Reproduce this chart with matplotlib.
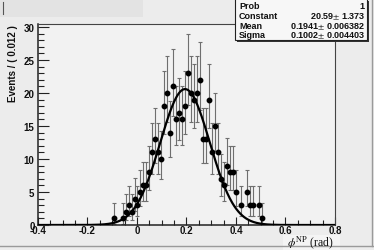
import numpy as np
import matplotlib
matplotlib.use("Agg")
import matplotlib.pyplot as plt
from matplotlib.patches import Rectangle
from matplotlib.lines import Line2D

# ---- data ----
bin_centers = [-0.094, -0.058, -0.046, -0.034, -0.022, -0.010, 0.002, 0.014, 0.026, 0.038,
               0.050, 0.062, 0.074, 0.086, 0.098, 0.110, 0.122, 0.134, 0.146, 0.158,
               0.170, 0.182, 0.194, 0.206, 0.218, 0.230, 0.242, 0.254, 0.266, 0.278,
               0.290, 0.302, 0.314, 0.326, 0.338, 0.350, 0.362, 0.374, 0.386, 0.398,
               0.422, 0.446, 0.458, 0.470, 0.494, 0.506]
counts = [1, 1, 2, 3, 2, 4, 3, 5, 6, 6,
          8, 11, 13, 11, 10, 18, 20, 14, 21, 16,
          17, 16, 18, 23, 20, 19, 20, 22, 13, 13,
          19, 11, 15, 11, 7, 6, 9, 8, 8, 5,
          3, 5, 3, 3, 3, 1]
fit_constant = 20.59
fit_mean = 0.1941
fit_sigma = 0.1002
stats_names = ["Prob", "Constant", "Mean", "Sigma"]
stats_values = ["1", "20.59$\\pm$ 1.373", "0.1941$\\pm$ 0.006382", "0.1002$\\pm$ 0.004403"]
x_ticks = [-0.4, -0.2, 0, 0.2, 0.4, 0.6, 0.8]
x_ticklabels = ["-0.4", "-0.2", "0", "0.2", "0.4", "0.6", "0.8"]
y_ticks = [0, 5, 10, 15, 20, 25, 30]

x = np.array(bin_centers)
n = np.array(counts, dtype=float)
# Poisson (Gehrels) approximate 68% intervals
up = np.sqrt(n + 0.75) + 1.0
lo = n - n * (1 - 1 / (9 * n) - 1 / (3 * np.sqrt(n))) ** 3

plt.rcParams['mathtext.fontset'] = 'stix'
W, H = 374, 251
fig = plt.figure(figsize=(W / 100, H / 100), dpi=100)
fig.patch.set_facecolor('#ececec')

# canvas bevel lines
fig.add_artist(Line2D([0, 1], [1 - 247 / H, 1 - 247 / H], color='#9a9a9a', lw=1.0, transform=fig.transFigure))
fig.add_artist(Line2D([372 / W, 372 / W], [1 - 247 / H, 1], color='#9a9a9a', lw=1.0, transform=fig.transFigure))

# title box top-left
fig.add_artist(Rectangle((0, 1 - 18 / H), 143 / W, 18 / H, transform=fig.transFigure,
                         facecolor='#e3e3e3', edgecolor='none'))
fig.add_artist(Line2D([3.5 / W, 3.5 / W], [1 - 15 / H, 1 - 3 / H], color='#555555', lw=0.8,
                      transform=fig.transFigure))

L, R, T, B = 38, 335, 25, 226
ax = fig.add_axes([L / W, 1 - B / H, (R - L) / W, (B - T) / H])
ax.set_facecolor('#f2f2f2')

ax.errorbar(x, n, yerr=[lo, up], fmt='none', ecolor='#6f6f6f', elinewidth=0.8,
            capsize=1.3, capthick=0.8, zorder=2)
ax.plot(x, n, 'o', color='black', markersize=3.2, zorder=3)

xx = np.linspace(-0.4, 0.8, 600)
ax.plot(xx, fit_constant * np.exp(-0.5 * ((xx - fit_mean) / fit_sigma) ** 2),
        color='black', lw=1.6, zorder=4)

ax.set_xlim(-0.4, 0.8)
ax.set_ylim(0, (B - T) / 6.6)
ax.set_xticks(x_ticks)
ax.set_xticklabels(x_ticklabels)
ax.set_yticks(y_ticks)
ax.set_xticks(np.arange(-0.35, 0.8, 0.05), minor=True)
ax.set_yticks(np.arange(0, 31, 1), minor=True)
ax.tick_params(axis='both', which='both', direction='in', top=False, right=False, colors='#222222')
ax.tick_params(axis='x', which='major', length=6, width=0.8, pad=0.3)
ax.tick_params(axis='x', which='minor', length=3.5, width=0.8)
ax.tick_params(axis='y', which='major', length=8, width=0.8, pad=2.5)
ax.tick_params(axis='y', which='minor', length=4, width=0.8)
for lab in ax.get_xticklabels() + ax.get_yticklabels():
    lab.set_fontfamily('Liberation Sans')
    lab.set_fontweight('bold')
    lab.set_fontsize(7)
    lab.set_color('#111111')
for s in ['left', 'bottom']:
    ax.spines[s].set_linewidth(1.1)
    ax.spines[s].set_color('#222222')
for s in ['top', 'right']:
    ax.spines[s].set_linewidth(0.8)
    ax.spines[s].set_color('#444444')

# y label
fig.text(13 / W, 1 - 25 / H, "Events / ( 0.012 )", rotation=90, ha='center', va='top',
         fontsize=7, fontweight='bold', family='Liberation Sans', color='#111111')

# x label with box
fig.add_artist(Rectangle((283 / W, 1 - 251 / H), 57 / W, 15.5 / H, transform=fig.transFigure,
                         facecolor='#f4f4f4', edgecolor='none'))
fig.text(334 / W, 1 - 242.5 / H, r"$\phi^{\mathrm{NP}}$ (rad)", ha='right', va='center',
         fontsize=8.5, family='Liberation Serif', color='#111111')

# stats box
bx0, bx1, by0, by1 = 235, 367, 0, 41
fig.add_artist(Rectangle(((bx0 + 2) / W, 1 - (by1 + 2) / H), (bx1 - bx0) / W, (by1 - by0) / H,
                         transform=fig.transFigure, facecolor='#333333', edgecolor='none', zorder=5))
fig.add_artist(Rectangle((bx0 / W, 1 - by1 / H), (bx1 - bx0) / W, (by1 - by0 + 2) / H,
                         transform=fig.transFigure, facecolor='#f7f7f7', edgecolor='#222222',
                         lw=0.8, zorder=6))
rows_y = [6.5, 16.5, 26.5, 36]
for name, val, ry in zip(stats_names, stats_values, rows_y):
    fig.text(239 / W, 1 - ry / H, name, ha='left', va='center', fontsize=6.5, fontweight='bold',
             family='Liberation Sans', color='#111111', zorder=7)
    fig.text(365 / W, 1 - ry / H, val, ha='right', va='center', fontsize=6.5, fontweight='bold',
             family='Liberation Sans', color='#111111', zorder=7)

fig.savefig('out.png', dpi=100, facecolor=fig.get_facecolor())
